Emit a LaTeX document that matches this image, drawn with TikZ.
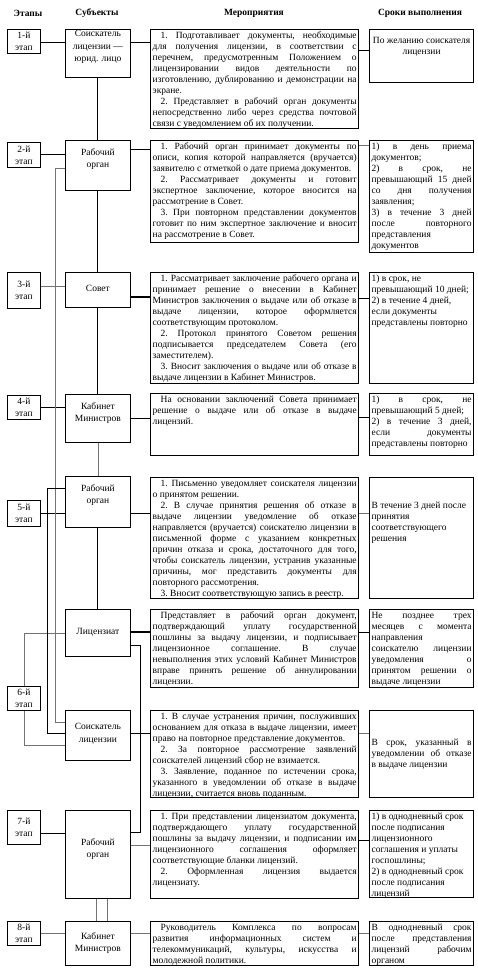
\documentclass[tikz,border=0pt]{standalone}
\usepackage{fontspec}
\setmainfont{Liberation Serif}
\usetikzlibrary{calc}
\newcommand\mfnt{\fontsize{9.5}{11}\selectfont\frenchspacing}
\newcommand\jln[1]{\hbox to \linewidth{\strut#1}}
\newcommand\lln[1]{\hbox to \linewidth{\strut#1\hfil}}
\newcommand\cln[1]{\hbox to \linewidth{\hfil\strut#1\hfil}}
\newcommand\ind{\hskip 8pt}
\newcommand\mtext[2]{\parbox[c][\dimexpr#1pt-2pt\relax][t]{204pt}{\mfnt #2}}
\newcommand\rtext[2]{\parbox[c][\dimexpr#1pt-2pt\relax][t]{100pt}{\mfnt #2}}
\newcommand\rctext[2]{\parbox[c][\dimexpr#1pt-2pt\relax][c]{100pt}{\mfnt #2}}
\tikzset{
  stg/.style={draw, line width=0.8pt, anchor=north west, minimum width=33pt, inner sep=0pt, align=center, font=\fontsize{9.5}{12}\selectfont},
  sbj/.style={draw, line width=0.8pt, anchor=north west, minimum width=65pt, inner sep=0pt},
  slab/.style={anchor=north, align=center, inner sep=0pt, font=\fontsize{9.5}{12.5}\selectfont},
  mbx/.style={draw, line width=1.4pt, anchor=north west, inner xsep=2pt, inner ysep=1pt},
  rbx/.style={draw, line width=1.2pt, anchor=north west, inner xsep=2pt, inner ysep=1pt},
  cn/.style={line width=0.9pt},
  cg/.style={line width=0.6pt, draw=black!55},
  hdr/.style={font=\bfseries\fontsize{9.5}{11}\selectfont}
}
\begin{document}
\begin{tikzpicture}[x=1pt,y=-1pt]
\useasboundingbox[fill=white] (0,0) rectangle (477,971);
% headers
\node[hdr] (h1) at (28,13) {Этапы};
\node[hdr] (h2) at (97,13) {Субъекты};
\node[hdr] (h3) at (254,13) {Мероприятия};
\node[hdr] (h4) at (420,13) {Сроки выполнения};
% stages
\node[stg, minimum height=24pt] (s1) at (7,29) {1-й\\этап};
\node[stg, minimum height=25pt] (s2) at (7,142) {2-й\\этап};
\node[stg, minimum height=36pt] (s3) at (7,272) {3-й\\этап};
\node[stg, minimum height=24pt] (s4) at (7,395) {4-й\\этап};
\node[stg, minimum height=26pt] (s5) at (7,500) {5-й\\этап};
\node[stg, minimum height=24pt] (s6) at (7,686) {6-й\\этап};
\node[stg, minimum height=34pt] (s7) at (7,810) {7-й\\этап};
\node[stg, minimum height=24pt] (s8) at (7,921) {8-й\\этап};
% subjects
\node[sbj, minimum height=48pt, label={[slab,yshift=-1.5pt]north:Соискатель\\лицензии —\\юрид. лицо}] (b1) at (65,29) {};
\node[sbj, minimum height=50pt, label={[slab,yshift=-8.4pt]north:Рабочий\\орган}] (b2) at (65,140) {};
\node[sbj, minimum height=35pt, label={[slab,yshift=-13.4pt]north:Совет}] (b3) at (65,272) {};
\node[sbj, minimum height=48pt, label={[slab,yshift=-8.4pt]north:Кабинет\\Министров}] (b4) at (65,394) {};
\node[sbj, minimum height=51pt, label={[slab,yshift=-8.4pt]north:Рабочий\\орган}] (b5) at (65,476) {};
\node[sbj, minimum height=47pt, label={[slab,yshift=-19.4pt]north:Лицензиат}] (b6a) at (65,609) {};
\node[sbj, minimum height=50pt, label={[slab,yshift=-13.4pt]north:Соискатель\\лицензии}] (b6b) at (65,710) {};
\node[sbj, minimum height=88pt, label={[slab,yshift=-28.4pt]north:Рабочий\\орган}] (b7) at (65,810) {};
\node[sbj, minimum height=44pt, label={[slab,yshift=-11.4pt]north:Кабинет\\Министров}] (b8) at (65,921) {};
% measures
\node[mbx] (m1) at (150,29) {\mtext{99}{%
\jln{\ind 1. Подготавливает документы, необходимые}
\jln{для получения лицензии, в соответствии с}
\jln{перечнем, предусмотренным Положением о}
\jln{лицензировании видов деятельности по}
\jln{изготовлению, дублированию и демонстрации на}
\lln{экране.}
\jln{\ind 2. Представляет в рабочий орган документы}
\jln{непосредственно либо через средства почтовой}
\lln{связи с уведомлением об их получении.}}};
\node[mbx] (m2) at (150,140) {\mtext{102}{%
\jln{\ind 1. Рабочий орган принимает документы по}
\jln{описи, копия которой направляется (вручается)}
\lln{заявителю с отметкой о дате приема документов.}
\jln{\ind 2. Рассматривает документы и готовит}
\jln{экспертное заключение, которое вносится на}
\lln{рассмотрение в Совет.}
\jln{\ind 3. При повторном представлении документов}
\jln{готовит по ним экспертное заключение и вносит}
\lln{на рассмотрение в Совет.}}};
\node[mbx] (m3) at (150,272) {\mtext{111}{%
\jln{\ind 1. Рассматривает заключение рабочего органа и}
\jln{принимает решение о внесении в Кабинет}
\jln{Министров заключения о выдаче или об отказе в}
\jln{выдаче лицензии, которое оформляется}
\lln{соответствующим протоколом.}
\jln{\ind 2. Протокол принятого Советом решения}
\jln{подписывается председателем Совета (его}
\lln{заместителем).}
\jln{\ind 3. Вносит заключения о выдаче или об отказе в}
\lln{выдаче лицензии в Кабинет Министров.}}};
\node[mbx] (m4) at (150,393) {\mtext{62}{%
\jln{\ind На основании заключений Совета принимает}
\jln{решение о выдаче или об отказе в выдаче}
\lln{лицензий.}}};
\node[mbx] (m5) at (150,477) {\mtext{121}{%
\jln{\ind 1. Письменно уведомляет соискателя лицензии}
\lln{о принятом решении.}
\jln{\ind 2. В случае принятия решения об отказе в}
\jln{выдаче лицензии уведомление об отказе}
\jln{направляется (вручается) соискателю лицензии в}
\jln{письменной форме с указанием конкретных}
\jln{причин отказа и срока, достаточного для того,}
\jln{чтобы соискатель лицензии, устранив указанные}
\jln{причины, мог представить документы для}
\lln{повторного рассмотрения.}
\lln{\ind 3. Вносит соответствующую запись в реестр.}}};
\node[mbx] (m6a) at (150,609) {\mtext{78}{%
\jln{\ind Представляет в рабочий орган документ,}
\jln{подтверждающий уплату государственной}
\jln{пошлины за выдачу лицензии, и подписывает}
\jln{лицензионное соглашение. В случае}
\jln{невыполнения этих условий Кабинет Министров}
\jln{вправе принять решение об аннулировании}
\lln{лицензии.}}};
\node[mbx] (m6b) at (150,710) {\mtext{87}{%
\jln{\ind 1. В случае устранения причин, послуживших}
\jln{основанием для отказа в выдаче лицензии, имеет}
\lln{право на повторное представление документов.}
\jln{\ind 2. За повторное рассмотрение заявлений}
\lln{соискателей лицензий сбор не взимается.}
\jln{\ind 3. Заявление, поданное по истечении срока,}
\jln{указанного в уведомлении об отказе в выдаче}
\lln{лицензии, считается вновь поданным.}}};
\node[mbx] (m7) at (150,810) {\mtext{88}{%
\jln{\ind 1. При представлении лицензиатом документа,}
\jln{подтверждающего уплату государственной}
\jln{пошлины за выдачу лицензии, и подписании им}
\jln{лицензионного соглашения оформляет}
\lln{соответствующие бланки лицензий.}
\jln{\ind 2. Оформленная лицензия выдается}
\lln{лицензиату.}}};
\node[mbx] (m8) at (150,921) {\mtext{44}{%
\jln{\ind Руководитель Комплекса по вопросам}
\jln{развития информационных систем и}
\jln{телекоммуникаций, культуры, искусства и}
\lln{молодежной политики.}}};
% terms
\node[rbx] (r1) at (369,29) {\rtext{53}{\vspace*{5pt}%
\cln{По желанию соискателя}
\cln{лицензии}}};
\node[rbx] (r2) at (369,140) {\rtext{112}{%
\jln{1) в день приема}
\lln{документов;}
\jln{2) в срок, не}
\jln{превышающий 15 дней}
\jln{со дня получения}
\lln{заявления;}
\jln{3) в течение 3 дней}
\jln{после повторного}
\lln{представления}
\lln{документов}}};
\node[rbx] (r3) at (369,272) {\rtext{111}{%
\lln{1) в срок, не}
\lln{превышающий 10 дней;}
\lln{2) в течение 4 дней,}
\lln{если документы}
\lln{представлены повторно}}};
\node[rbx] (r4) at (369,393) {\rtext{62}{%
\jln{1) в срок, не}
\lln{превышающий 5 дней;}
\jln{2) в течение 3 дней,}
\jln{если документы}
\lln{представлены повторно}}};
\node[rbx] (r5) at (369,477) {\rtext{121}{\vspace*{22pt}%
\lln{В течение 3 дней после}
\lln{принятия}
\lln{соответствующего}
\lln{решения}}};
\node[rbx] (r6a) at (369,609) {\rtext{78}{%
\jln{Не позднее трех}
\jln{месяцев с момента}
\lln{направления}
\jln{соискателю лицензии}
\jln{уведомления о}
\jln{принятом решении о}
\lln{выдаче лицензии}}};
\node[rbx] (r6b) at (369,710) {\rctext{87}{%
\jln{В срок, указанный в}
\jln{уведомлении об отказе}
\lln{в выдаче лицензии}}};
\node[rbx] (r7) at (369,810) {\rtext{87}{%
\lln{1) в однодневный срок}
\lln{после подписания}
\lln{лицензионного}
\lln{соглашения и уплаты}
\lln{госпошлины;}
\lln{2) в однодневный срок}
\lln{после подписания}
\lln{лицензий}}};
\node[rbx] (r8) at (369,921) {\rtext{44}{%
\jln{В однодневный срок}
\jln{после представления}
\jln{лицензий рабочим}
\lln{органом}}};
% connector levels
\coordinate (a1) at (0,42);  \coordinate (q1) at (0,50);
\coordinate (a2) at (0,149); \coordinate (q2) at (0,145);
\coordinate (a3) at (0,297); \coordinate (q3) at (0,298);
\coordinate (a4) at (0,418); \coordinate (q4) at (0,417);
\coordinate (a5) at (0,513); \coordinate (q5) at (0,513);
\coordinate (a6) at (0,632); \coordinate (q6) at (0,632);
\coordinate (a7) at (0,733); \coordinate (q7) at (0,733);
\coordinate (a8) at (0,845); \coordinate (q8) at (0,840);
\coordinate (a9) at (0,933); \coordinate (q9) at (0,933);
\coordinate (c3) at (0,286);
\coordinate (c7) at (0,833);
\coordinate (c6b) at (0,745);
% stage -> subject
\draw[cn] (s1.east |- a1) -- (b1.west |- a1);
\draw[cn] (s2.east) -- (s2.east -| b2.west);
\draw[cg] (s3.east |- c3) -- (b3.west |- c3);
\draw[cn] (s4.east) -- (s4.east -| b4.west);
\draw[cn] (s5.east) -- (s5.east -| b5.west);
\draw[cg] (s6.north) |- (b6a.west);
\draw[cg] (s6.south) |- (b6b.west |- c6b);
\draw[cn] (s7.east |- c7) -- (b7.west |- c7);
\draw[cg] (s8.east |- a9) -- (b8.west |- a9);
% subject -> measures
\draw[cn] (b1.east |- a1) -- (m1.west |- a1);
\draw[cn] (b2.east |- a2) -- (m2.west |- a2);
\draw[cn, line width=1.3pt] (b3.east |- a3) -- (m3.west |- a3);
\draw[cn] (b4.east |- a4) -- (m4.west |- a4);
\draw[cn] (b5.east |- a5) -- (m5.west |- a5);
\draw[cn, line width=1.3pt] (b6a.east |- a6) -- (m6a.west |- a6);
\draw[cn] (b6b.east |- a7) -- (m6b.west |- a7);
\draw[cg] (b7.east |- a8) -- (m7.west |- a8);
\draw[cg] (b8.east |- a9) -- (m8.west |- a9);
% measures -> terms
\draw[cn] (m1.east |- q1) -- (r1.west |- q1);
\draw[cg] (m2.east |- q2) -- (r2.west |- q2);
\draw[cn] (m3.east |- q3) -- (r3.west |- q3);
\draw[cn] (m4.east |- q4) -- (r4.west |- q4);
\draw[cg] (m5.east |- q5) -- (r5.west |- q5);
\draw[cn] (m6a.east |- q6) -- (r6a.west |- q6);
\draw[cg] (m6b.east |- q7) -- (r6b.west |- q7);
\draw[cn] (m7.east |- q8) -- (r7.west |- q8);
\draw[cg] (m8.east |- q9) -- (r8.west |- q9);
% trunk
\draw[cn] (b1.south) -- (b2.north);
\draw[cn] (b2.south) -- (b3.north);
\draw[cn] (b3.south) -- (b4.north);
\draw[cg] (b4.south) -- (b5.north);
\draw[cn] (b5.south) -- (b6a.north);
% long links
\coordinate (k1) at (55,168); \coordinate (k2) at (55,722);
\draw[cg] (b2.west |- k1) -- (k1) -- (k2) -- (b6b.west |- k2);
\coordinate (k3) at (47,488); \coordinate (k4) at (47,733);
\draw[cn] (b5.west |- k3) -- (k3) -- (k4) -- (b6b.west |- k4);
\coordinate (k5) at (140,645); \coordinate (k6) at (140,832);
\draw[cn] (b6a.east |- k5) -- (k5) -- (k6) -- (b7.east |- k6);
% 7 -> 8
\draw[cg] ([xshift=-1.5pt]b7.south) -- ([xshift=-1.5pt]b7.south |- b8.north);
\draw[cg] ([xshift=9.5pt]b7.south) -- ([xshift=9.5pt]b7.south |- b8.north);
\end{tikzpicture}
\end{document}
